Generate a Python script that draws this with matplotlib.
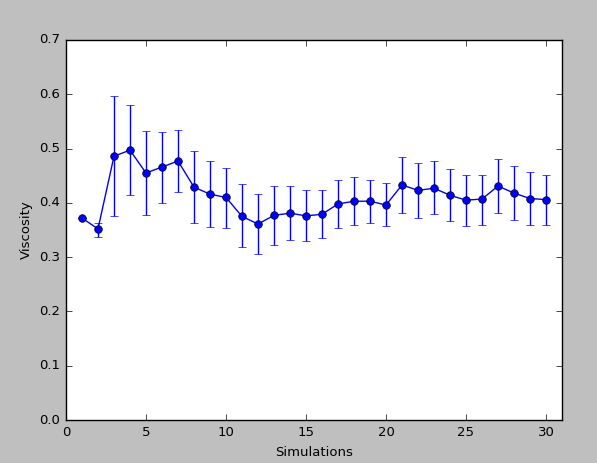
import matplotlib
matplotlib.use('Agg')
import matplotlib.pyplot as plt

plt.style.use('classic')
plt.rcParams['font.size'] = 9.5

sims = list(range(1, 31))
viscosity = [0.372, 0.352, 0.486, 0.497, 0.455, 0.466, 0.477, 0.429, 0.416, 0.410,
             0.375, 0.361, 0.377, 0.381, 0.376, 0.379, 0.398, 0.403, 0.403, 0.396,
             0.433, 0.423, 0.427, 0.414, 0.405, 0.407, 0.431, 0.418, 0.408, 0.406]
lower = [0.372, 0.337, 0.375, 0.415, 0.378, 0.400, 0.420, 0.363, 0.355, 0.353,
         0.318, 0.305, 0.323, 0.331, 0.329, 0.335, 0.353, 0.360, 0.362, 0.357,
         0.382, 0.372, 0.380, 0.367, 0.358, 0.360, 0.381, 0.368, 0.360, 0.359]
upper = [0.372, 0.363, 0.597, 0.580, 0.532, 0.530, 0.534, 0.495, 0.477, 0.464,
         0.434, 0.416, 0.431, 0.431, 0.423, 0.423, 0.443, 0.447, 0.443, 0.436,
         0.484, 0.473, 0.477, 0.462, 0.451, 0.452, 0.480, 0.467, 0.457, 0.452]

err = [[v - l for v, l in zip(viscosity, lower)],
       [u - v for u, v in zip(upper, viscosity)]]

fig = plt.figure(figsize=(5.97, 4.63), dpi=100, facecolor='#bfbfbf')
ax = fig.add_axes([66/597, 43/463, 496/597, 380/463])
ax.errorbar(sims, viscosity, yerr=err, fmt='-o', color='b', ecolor='b',
            markersize=5.5, capsize=3)
ax.set_xlim(0, 31)
ax.set_ylim(0, 0.7)
ax.set_xlabel('Simulations')
ax.set_ylabel('Viscosity')
fig.savefig('out.png', dpi=100, facecolor=fig.get_facecolor())
